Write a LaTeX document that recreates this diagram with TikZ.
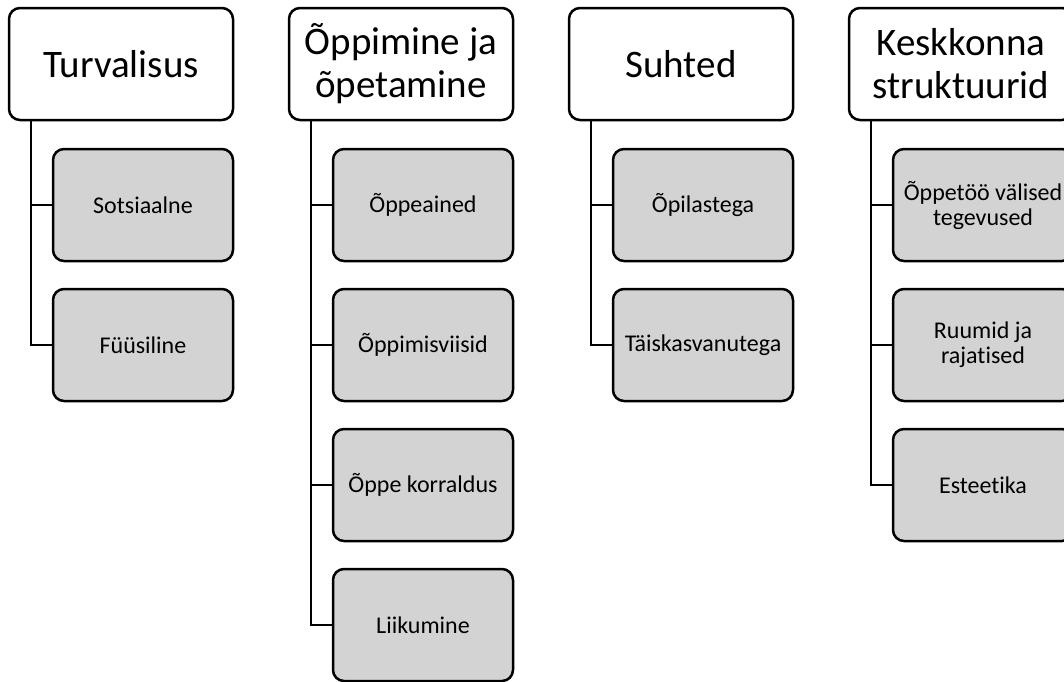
\documentclass[tikz,border=0pt]{standalone}
\usepackage{fontspec}
\setmainfont{Carlito}[Ligatures={NoCommon}]
\definecolor{childfill}{RGB}{211,211,211}
\begin{document}
\begin{tikzpicture}[x=1pt,y=1pt,
  topbox/.style={draw=black, line width=2.5pt, rounded corners=11pt, fill=white,
    minimum width=224pt, minimum height=112pt, inner sep=0pt, align=center,
    font=\fontsize{39}{43}\selectfont},
  childbox/.style={draw=black, line width=2.5pt, rounded corners=11pt, fill=childfill,
    minimum width=180pt, minimum height=112pt, inner sep=0pt, align=center,
    font=\fontsize{24}{25}\selectfont},
  conn/.style={draw=black, line width=2.5pt}]
\useasboundingbox (0,0) rectangle (1064,-681);
\clip (0,0) rectangle (1064,-681);
% column 1
\node[topbox] (t1) at (121,-64) {Turvalisus};
\node[childbox] (c11) at (143,-205) {Sotsiaalne};
\node[childbox] (c12) at (143,-345) {Füüsiline};
% column 2
\node[topbox] (t2) at (401,-64) {Õppimine ja\\õpetamine};
\node[childbox] (c21) at (423,-205) {Õppeained};
\node[childbox] (c22) at (423,-345) {Õppimisviisid};
\node[childbox] (c23) at (423,-485) {Õppe korraldus};
\node[childbox] (c24) at (423,-625) {Liikumine};
% column 3
\node[topbox] (t3) at (681,-64) {Suhted};
\node[childbox] (c31) at (703,-205) {Õpilastega};
\node[childbox] (c32) at (703,-345) {Täiskasvanutega};
% column 4
\node[topbox] (t4) at (961,-64) {Keskkonna\\struktuurid};
\node[childbox] (c41) at (983,-205) {Õppetöö välised\\tegevused};
\node[childbox] (c42) at (983,-345) {Ruumid ja\\rajatised};
\node[childbox] (c43) at (983,-485) {Esteetika};
% connectors
\foreach \t/\cs in {t1/{c11,c12}, t2/{c21,c22,c23,c24}, t3/{c31,c32}, t4/{c41,c42,c43}}{
  \foreach \c in \cs {
    \draw[conn] ([xshift=23pt]\t.south west) |- (\c.west);
  }
}
\end{tikzpicture}
\end{document}
